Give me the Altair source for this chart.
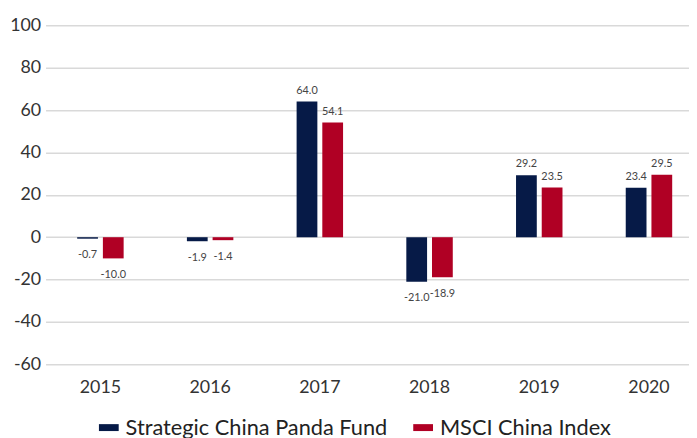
import altair as alt
import pandas as pd

years = ["2015", "2016", "2017", "2018", "2019", "2020"]
fund = [-0.7, -1.9, 64.0, -21.0, 29.2, 23.4]
msci = [-10.0, -1.4, 54.1, -18.9, 23.5, 29.5]
series = ["Strategic China Panda Fund", "MSCI China Index"]
colors = ["#061A47", "#B00024"]
y_ticks = [-60, -40, -20, 0, 20, 40, 60, 80, 100]

rows = []
for i, yr in enumerate(years):
    rows.append({"year": yr, "series": series[0], "value": fund[i]})
    rows.append({"year": yr, "series": series[1], "value": msci[i]})
df = pd.DataFrame(rows)

FONT = "Lato"

x = alt.X("year:N", sort=years, title=None,
          scale=alt.Scale(range=[-14, 652], paddingInner=0, paddingOuter=0),
          axis=alt.Axis(labelAngle=0, labelFontSize=18, labelColor="#333333",
                        labelFont=FONT, ticks=False, domain=False, labelPadding=14))
xo = alt.XOffset("series:N", sort=series,
                 scale=alt.Scale(range=[29.5, 81.5], paddingInner=0, paddingOuter=0))
y = alt.Y("value:Q", title=None,
          scale=alt.Scale(domain=[-60, 100], nice=False),
          axis=alt.Axis(values=y_ticks, labelFontSize=18, labelColor="#333333",
                        labelFont=FONT, ticks=False, domain=False, labelPadding=19,
                        labelExpr="toString(datum.value)",
                        grid=True, gridColor="#D9D9D9", gridWidth=1.5))
color = alt.Color("series:N", sort=series,
                  scale=alt.Scale(domain=series, range=colors),
                  legend=alt.Legend(title=None, orient="none", direction="horizontal",
                                    legendX=39, legendY=396,
                                    symbolType="M-1,-0.35L1,-0.35L1,0.35L-1,0.35Z",
                                    symbolSize=400, symbolStrokeWidth=0,
                                    labelFontSize=22, labelFont=FONT, labelColor="#222222",
                                    labelOffset=6, columnPadding=25, padding=0,
                                    labelLimit=400))

base = alt.Chart(df).transform_calculate(
    label="replace(format(datum.value, '.1f'), '\u2212', '-')"
)
bars = base.mark_bar(width=21).encode(x=x, xOffset=xo, y=y, color=color)
pos = base.transform_filter("datum.value >= 0").mark_text(
    baseline="bottom", dy=-6, fontSize=11, font=FONT, color="#444444"
).encode(x=x, xOffset=xo, y=y, text="label:N")
neg = base.transform_filter("datum.value < 0").mark_text(
    baseline="top", dy=11, fontSize=11, font=FONT, color="#444444"
).encode(x=x, xOffset=xo, y=y, text="label:N")

chart = alt.layer(bars, pos, neg).properties(
    width=637, height=343,
    autosize=alt.AutoSizeParams(type="none"),
    padding={"left": 52, "top": 15, "right": 0, "bottom": 72},
).configure_view(stroke=None)

chart.save("out.html", embed_options={"renderer": "svg", "actions": False})
